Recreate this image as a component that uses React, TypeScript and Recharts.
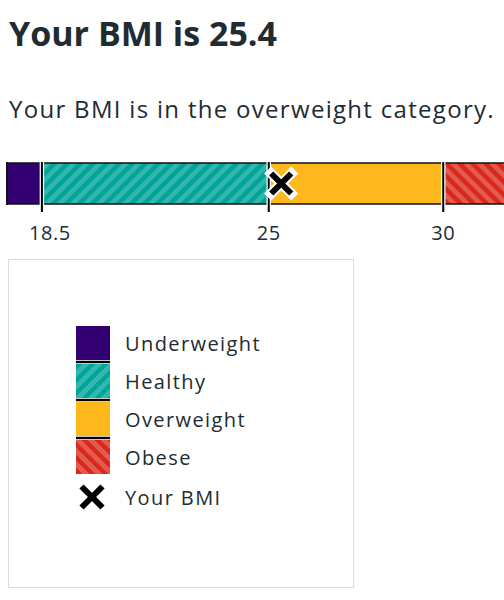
import React from "react";
import {
  Bar,
  BarChart,
  Legend,
  ReferenceDot,
  ReferenceLine,
  XAxis,
  YAxis,
} from "recharts";

// BMI bands, stacked from 0 and clipped to the visible domain
const categories = ["Underweight", "Healthy", "Overweight", "Obese"];
const bandSizes = [18.5, 6.5, 5, 3];
const bandStarts = [17.5, 18.5, 25, 30];
const tickValues = [18.5, 25, 30];
const xDomain = [17.5, 32.5];
const yourBmi = 25.4;
const rowName = "BMI";

const TEXT = "#212b32";
const FONT = "'Open Sans', sans-serif";

const fills: Record<string, string> = {
  Underweight: "#330072",
  Healthy: "url(#healthyStripes)",
  Overweight: "#ffb81c",
  Obese: "url(#obeseStripes)",
};

const swatchBg: Record<string, string> = {
  Underweight: "#330072",
  Healthy:
    "repeating-linear-gradient(135deg, #00a499 0px, #00a499 4.6px, #33b6ad 4.6px, #33b6ad 9.2px)",
  Overweight: "#ffb81c",
  Obese:
    "repeating-linear-gradient(45deg, #da291c 0px, #da291c 4.6px, #e15a50 4.6px, #e15a50 9.2px)",
};

const row: Record<string, string | number> = { name: rowName };
categories.forEach((c, i) => {
  row[c] = bandSizes[i];
});
const data = [row];

const Cross = ({ size = 10, outline = true }: { size?: number; outline?: boolean }) => {
  const d = `M${-size},${-size} L${size},${size} M${size},${-size} L${-size},${size}`;
  return (
    <g>
      {outline && (
        <path d={d} stroke="#fff" strokeWidth={10} strokeLinecap="square" fill="none" />
      )}
      <path d={d} stroke="#000" strokeWidth={6} fill="none" />
    </g>
  );
};

const renderMarker = (props: any) => (
  <g transform={`translate(${props.cx - 1.5},${props.cy})`}>
    <Cross />
  </g>
);

const renderTick = (props: any) => {
  const { x, y, payload, index } = props;
  return (
    <text
      x={x + (index === 0 ? 8 : 0)}
      y={y}
      dy="0.71em"
      textAnchor="middle"
      fill={TEXT}
      fontSize={20}
      fontFamily={FONT}
      letterSpacing={0.6}
    >
      {payload.value}
    </text>
  );
};

const renderLegend = () => (
  <div
    style={{
      boxSizing: "border-box",
      width: 346,
      height: 329,
      border: "1px solid #d8dde0",
      paddingTop: 66,
      paddingLeft: 67,
      fontFamily: FONT,
      color: TEXT,
      fontSize: 20,
      letterSpacing: 1.4,
    }}
  >
    {categories.map((c, i) => (
      <div key={c}>
        <div style={{ display: "flex", alignItems: "center", height: 34 }}>
          <div style={{ width: 34, height: 34, background: swatchBg[c] }} />
          <span style={{ marginLeft: 15 }}>{c}</span>
        </div>
        {i < categories.length - 1 && (
          <div
            style={{
              width: 34,
              height: 2,
              background: "#000",
              borderTop: "1.5px solid #c9c9c9",
              borderBottom: "1.5px solid #c9c9c9",
            }}
          />
        )}
      </div>
    ))}
    <div style={{ display: "flex", alignItems: "center", height: 34, marginTop: 6 }}>
      <svg width={34} height={34}>
        <g transform="translate(16,17)">
          <Cross size={10.5} outline={false} />
        </g>
      </svg>
      <span style={{ marginLeft: 15 }}>Your BMI</span>
    </div>
  </div>
);

export default function App() {
  return (
    <div
      style={{
        position: "absolute",
        left: 0,
        top: 0,
        width: 504,
        height: 600,
        overflow: "hidden",
        background: "#fff",
        fontFamily: FONT,
        color: TEXT,
      }}
    >
      <div
        style={{
          position: "absolute",
          left: 9,
          top: 16,
          fontSize: 34,
          lineHeight: "34px",
          fontWeight: 700,
          whiteSpace: "nowrap",
        }}
      >
        Your BMI is {yourBmi}
      </div>
      <div
        style={{
          position: "absolute",
          left: 9,
          top: 97,
          fontSize: 24,
          lineHeight: "24px",
          letterSpacing: 1.3,
          whiteSpace: "nowrap",
        }}
      >
        Your BMI is in the overweight category.
      </div>
      <div style={{ position: "absolute", left: 0, top: 0 }}>
        <BarChart
          width={540}
          height={600}
          data={data}
          layout="vertical"
          barSize={41}
          margin={{ top: 162, left: 7, right: 9.5, bottom: 355 }}
        >
          <defs>
            <pattern
              id="healthyStripes"
              patternUnits="userSpaceOnUse"
              width={9.2}
              height={9.2}
              patternTransform="rotate(45)"
            >
              <rect width={9.2} height={9.2} fill="#00a499" />
              <rect width={4.6} height={9.2} fill="#33b6ad" />
            </pattern>
            <pattern
              id="obeseStripes"
              patternUnits="userSpaceOnUse"
              width={9.2}
              height={9.2}
              patternTransform="rotate(-45)"
            >
              <rect width={9.2} height={9.2} fill="#da291c" />
              <rect width={4.6} height={9.2} fill="#e15a50" />
            </pattern>
          </defs>
          <XAxis
            type="number"
            domain={xDomain}
            allowDataOverflow
            ticks={tickValues}
            interval={0}
            axisLine={false}
            tickLine={{ stroke: "#000", strokeWidth: 2 }}
            tickSize={7}
            tickMargin={14}
            height={40}
            tick={renderTick}
          />
          <YAxis type="category" dataKey="name" hide />
          {categories.map((c) => (
            <Bar
              key={c}
              dataKey={c}
              stackId="bmi"
              fill={fills[c]}
              stroke="#111"
              strokeWidth={1.5}
              isAnimationActive={false}
            />
          ))}
          <ReferenceLine x={bandStarts[0]} stroke="#111" strokeWidth={2} />
          {tickValues.map((t) => (
            <ReferenceLine key={`w${t}`} x={t} stroke="#fff" strokeWidth={4.5} />
          ))}
          {tickValues.map((t) => (
            <ReferenceLine key={`b${t}`} x={t} stroke="#000" strokeWidth={2} />
          ))}
          <ReferenceDot x={yourBmi} y={rowName} r={12} shape={renderMarker} />
          <Legend
            layout="horizontal"
            verticalAlign="middle"
            align="center"
            content={renderLegend}
            wrapperStyle={{ left: 8, top: 259, width: 346, height: 329 }}
          />
        </BarChart>
      </div>
    </div>
  );
}
